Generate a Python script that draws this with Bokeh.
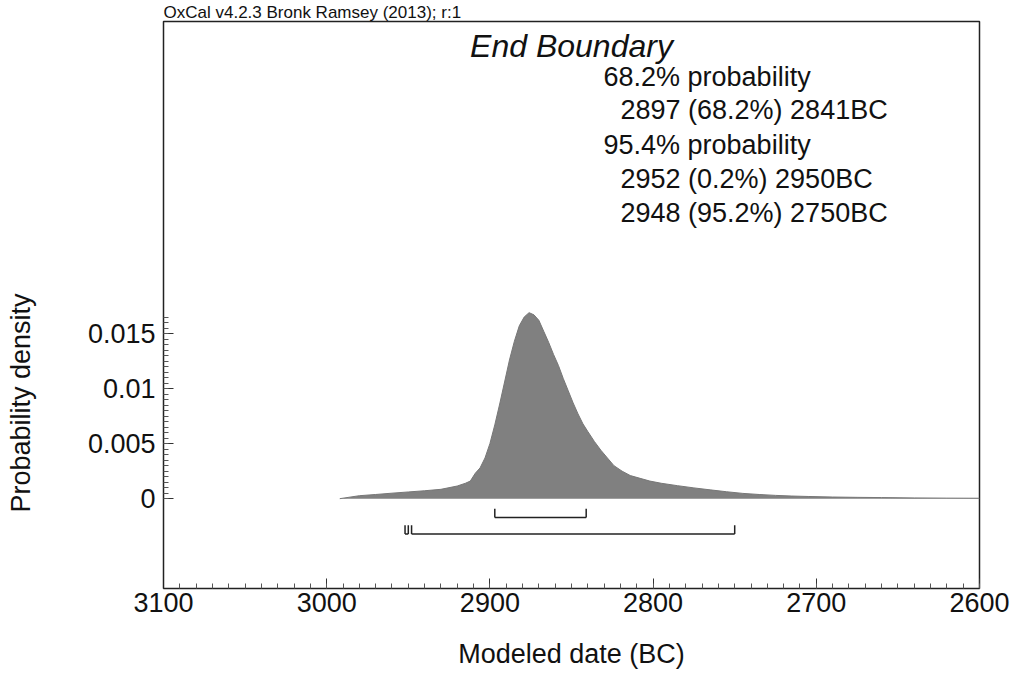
from bokeh.plotting import figure
from bokeh.models import Range1d, FixedTicker, Label, CustomJSTickFormatter, Title, LinearAxis
from bokeh.embed import file_html
from bokeh.resources import INLINE

# ---- data ----
years = [2992, 2980, 2970, 2960, 2950, 2940, 2930, 2920, 2915, 2912, 2909, 2906,
         2903, 2900, 2897, 2894, 2891, 2888, 2885, 2882, 2879, 2876, 2873, 2870,
         2867, 2864, 2861, 2858, 2855, 2852, 2849, 2846, 2843, 2840, 2836, 2832,
         2828, 2824, 2819, 2814, 2808, 2802, 2795, 2785, 2775, 2765, 2755, 2745,
         2735, 2725, 2715, 2705, 2690, 2675, 2660, 2640, 2620, 2600]
density = [0.0, 0.00027, 0.00038, 0.0005, 0.00061, 0.00072, 0.00085, 0.00115, 0.0014,
           0.0016, 0.0023, 0.0028, 0.0037, 0.0050, 0.0067, 0.0086, 0.0106, 0.0126,
           0.0143, 0.0157, 0.0165, 0.0169, 0.0167, 0.0162, 0.0152, 0.0142, 0.0131,
           0.0121, 0.0109, 0.0098, 0.0087, 0.0077, 0.0068, 0.0061, 0.0052, 0.0044,
           0.0037, 0.0030, 0.0025, 0.0021, 0.00185, 0.0016, 0.0014, 0.00118, 0.00098,
           0.0008, 0.00063, 0.00048, 0.00038, 0.0003, 0.00024, 0.0002, 0.00015,
           0.00012, 0.0001, 0.00007, 0.00005, 0.00004]

range_68 = [(2897, 2841)]
range_95 = [(2952, 2950), (2948, 2750)]

x_major = [3100, 3000, 2900, 2800, 2700, 2600]
y_major = [0, 0.005, 0.01, 0.015]

title_text = "End Boundary"
header_text = "OxCal v4.2.3 Bronk Ramsey (2013); r:1"
summary_lines = ["68.2% probability", "2897 (68.2%) 2841BC", "95.4% probability",
                 "2952 (0.2%) 2950BC", "2948 (95.2%) 2750BC"]
summary_indent = [False, True, False, True, True]

FONT = "Liberation Sans"
FS = "27px"

p = figure(width=1015, height=679, x_range=Range1d(3100, 2600),
           y_range=Range1d(-0.00816, 0.04335), output_backend="svg",
           toolbar_location=None, min_border_left=163, min_border_right=36,
           min_border_top=18, min_border_bottom=91)
p.grid.visible = False
p.outline_line_color = "#222222"
p.outline_line_width = 1.5
p.background_fill_color = "white"
p.border_fill_color = "white"

# header (above plot)
p.title = Title(text=header_text, align="left", text_font=FONT, text_font_size="17px",
                text_font_style="normal", text_color="#111111", standoff=0, offset=0)

# distribution
p.varea(x=years, y1=[0] * len(years), y2=density, fill_color="#808080")
p.line(x=years, y=density, line_color="#777777", line_width=1)

# range brackets
def brackets(intervals, level, h):
    x0, y0, x1, y1 = [], [], [], []
    for a, b in intervals:
        x0 += [a, a, b]; y0 += [level, level, level]
        x1 += [b, a, b]; y1 += [level, level + h, level + h]
    return x0, y0, x1, y1

for ivs, lvl in ((range_68, -0.00172), (range_95, -0.00322)):
    x0, y0, x1, y1 = brackets(ivs, lvl, 0.0008)
    p.segment(x0=x0, y0=y0, x1=x1, y1=y1, line_color="#222222", line_width=1.5)

# x axis
xa = p.xaxis[0]
xa.ticker = FixedTicker(ticks=x_major, minor_ticks=list(range(3100, 2599, -10)))
xa.major_tick_in = 10
xa.major_tick_out = 0
xa.minor_tick_in = 5
xa.minor_tick_out = 0
xa.axis_line_color = "#222222"
xa.major_tick_line_color = "#333333"
xa.minor_tick_line_color = "#555555"
xa.major_label_text_font = FONT
xa.major_label_text_font_size = FS
xa.major_label_text_color = "#111111"
xa.major_label_standoff = 4
xa.axis_label = "Modeled date (BC)"
xa.axis_label_text_font = FONT
xa.axis_label_text_font_size = FS
xa.axis_label_text_font_style = "normal"
xa.axis_label_text_color = "#111111"
xa.axis_label_standoff = 24

# y axis
ya = p.yaxis[0]
ya.ticker = FixedTicker(ticks=y_major,
                        minor_ticks=[i * 0.0005 for i in range(0, 34)])
ya.formatter = CustomJSTickFormatter(code="return String(Number(tick.toPrecision(6)));")
ya.major_tick_in = 10
ya.major_tick_out = 0
ya.minor_tick_in = 5
ya.minor_tick_out = 0
ya.axis_line_color = "#222222"
ya.major_tick_line_color = "#333333"
ya.minor_tick_line_color = "#555555"
ya.major_label_text_font = FONT
ya.major_label_text_font_size = FS
ya.major_label_text_color = "#111111"
ya.major_label_standoff = 8

# invisible spacer axis (one white tick, no label) to push the y label outward
spacer = LinearAxis(ticker=FixedTicker(ticks=[0], minor_ticks=[]), axis_line_color=None,
                    major_tick_line_color="white", minor_tick_line_color=None,
                    major_tick_in=0, major_tick_out=49, minor_tick_in=0,
                    minor_tick_out=0, major_label_standoff=0,
                    major_label_text_color=None,
                    formatter=CustomJSTickFormatter(code="return '';"))
p.add_layout(spacer, "left")

# y axis label, centred on the density scale
p.add_layout(Title(text="Probability density", align="left", offset=76, standoff=0,
                   text_font=FONT, text_font_size=FS, text_font_style="normal",
                   text_color="#111111"), "left")

# title and summary
p.add_layout(Label(x=408, y=543, x_units="screen", y_units="screen",
                   text=title_text, text_align="center", text_baseline="middle",
                   text_font=FONT, text_font_size="32px", text_font_style="italic",
                   text_color="#111111"))
ys = [512, 479, 444, 410, 376]
for t, ind, yy in zip(summary_lines, summary_indent, ys):
    p.add_layout(Label(x=457 if ind else 440, y=yy, x_units="screen", y_units="screen",
                       text=t, text_align="left", text_baseline="middle",
                       text_font=FONT, text_font_size=FS, text_color="#111111"))

open("out.html", "w").write(file_html(p, INLINE))
